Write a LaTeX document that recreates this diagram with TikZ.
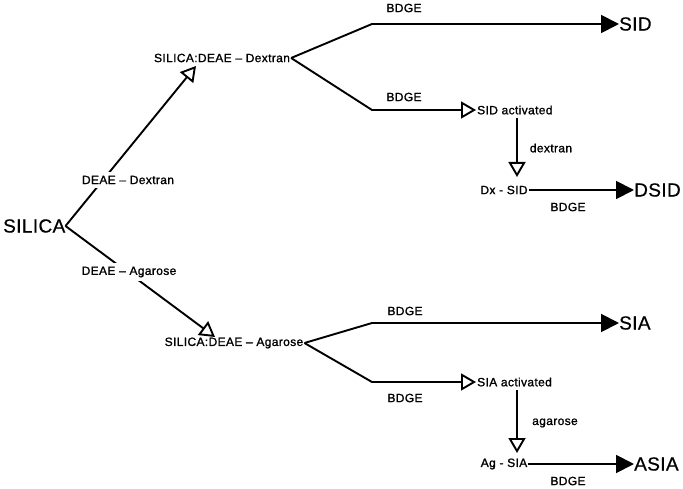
\documentclass[tikz,border=0pt]{standalone}
\usepackage{fontspec}
\setmainfont{Liberation Sans}
\usetikzlibrary{arrows.meta}
\begin{document}
\begin{tikzpicture}[x=1pt,y=-1pt,
  lab/.style={font=\fontsize{12}{14}\selectfont\addfontfeature{LetterSpace=3,FakeBold=1.2}, inner sep=1pt},
  big/.style={font=\fontsize{19}{23}\selectfont\addfontfeature{LetterSpace=2,FakeBold=0.6}, inner sep=0pt},
  conn/.style={line width=1.9pt},
  opentip/.style={-{Triangle[open,length=15pt,width=17pt]}},
  solidtip/.style={-{Triangle[length=18pt,width=18pt]}},
  cut/.style={fill=white, inner sep=4pt}]
\useasboundingbox (0,0) rectangle (683,489);

% start material and the two coated intermediates
\node[big,anchor=west] (silica) at (3,226) {SILICA};
\node[lab] (sdx) at (222,58) {SILICA:DEAE -- Dextran};
\node[lab] (sag) at (234,343) {SILICA:DEAE -- Agarose};
\coordinate (tdx) at (196,66);
\coordinate (tag) at (215,337);

\draw[conn,opentip] (silica.east) -- (tdx);
\draw[conn,opentip] (silica.east) -- (tag);
\node[lab,cut] (ldex) at (128,180) {DEAE -- Dextran};
\node[lab,cut] (laga) at (129,272) {DEAE -- Agarose};

% dextran branch
\coordinate (d1) at (372,24);
\coordinate (d2) at (372,110);
\node[big,anchor=west] (sid) at (619,24) {SID};
\node[lab,anchor=west] (sida) at (476,110) {SID activated};
\draw[conn,solidtip] (sdx.east) -- (d1) -- (sid.west);
\draw[conn,opentip] (sdx.east) -- (d2) -- (sida.west);
\node[lab] (b1) at (404,8) {BDGE};
\node[lab] (b2) at (404,97) {BDGE};

\coordinate (v1) at (517,118);
\coordinate (v2) at (517,177);
\draw[conn,opentip] (v1) -- (v2);
\node[lab] (ldx) at (551,148) {dextran};
\node[lab] (dxs) at (504,190) {Dx - SID};
\node[big,anchor=west] (dsid) at (634,190) {DSID};
\draw[conn,solidtip] (dxs.east) -- (dsid.west);
\node[lab] (b3) at (568,207) {BDGE};

% agarose branch
\coordinate (a1) at (372,323);
\coordinate (a2) at (372,382);
\node[big,anchor=west] (sia) at (619,323) {SIA};
\node[lab,anchor=west] (siaa) at (476,382) {SIA activated};
\draw[conn,solidtip] (sag.east) -- (a1) -- (sia.west);
\draw[conn,opentip] (sag.east) -- (a2) -- (siaa.west);
\node[lab] (b4) at (405,311) {BDGE};
\node[lab] (b5) at (405,398) {BDGE};

\coordinate (w1) at (517,390);
\coordinate (w2) at (517,453);
\draw[conn,opentip] (w1) -- (w2);
\node[lab] (lag) at (555,423) {agarose};
\node[lab] (ags) at (504,464) {Ag - SIA};
\node[big,anchor=west] (asia) at (634,464) {ASIA};
\draw[conn,solidtip] (ags.east) -- (asia.west);
\node[lab] (b6) at (568,481) {BDGE};
\end{tikzpicture}
\end{document}
